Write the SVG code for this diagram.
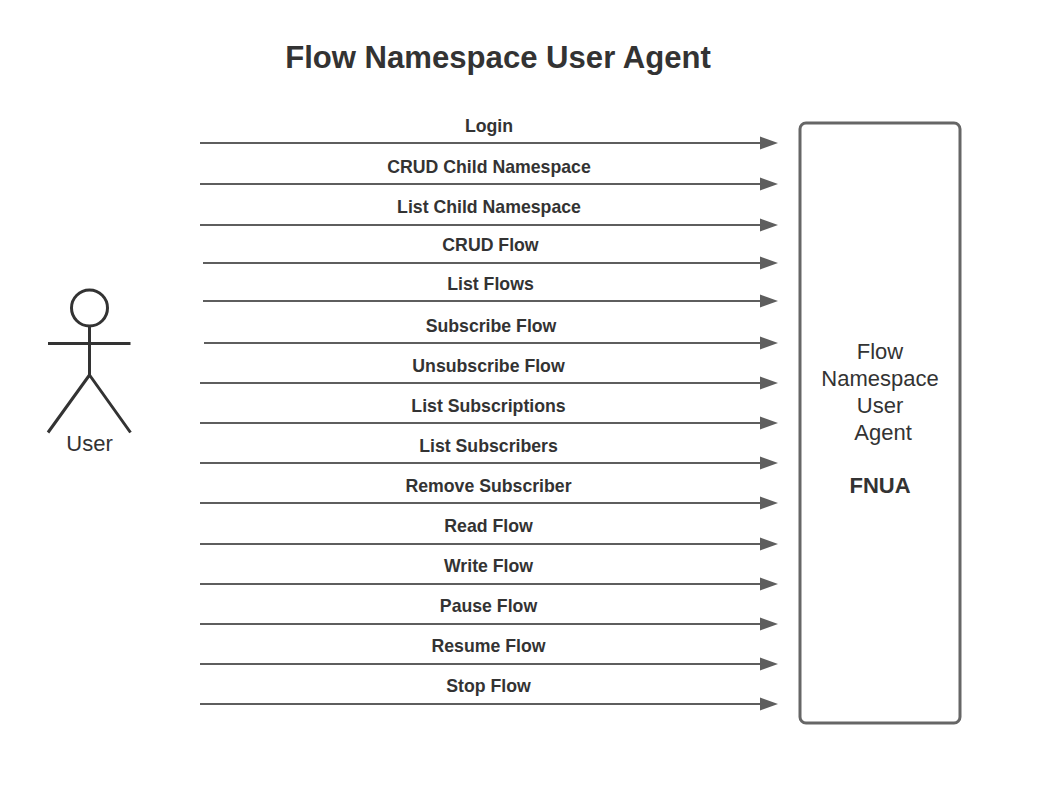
<svg xmlns="http://www.w3.org/2000/svg" width="1055" height="811" viewBox="0 0 1055 811">
<style>
text{font-family:"Liberation Sans",Arial,sans-serif;fill:#333;text-anchor:middle}
.l{font-size:17.700px;font-weight:700}
.n{font-size:22px}
.c{stroke:#5e5e5e;stroke-width:2;fill:none;marker-end:url(#a)}
.s{stroke:#333;stroke-width:3;fill:none;stroke-linecap:butt}
</style>
<defs><marker id="a" markerUnits="userSpaceOnUse" markerWidth="20" markerHeight="14" refX="10" refY="7" orient="auto"><path d="M0 0.500L18 7L0 13.500Z" fill="#5e5e5e"/></marker></defs>
<rect width="1055" height="811" fill="#fff"/>
<text id="title" x="498" y="68" style="font-size:31.100px;font-weight:700">Flow Namespace User Agent</text>
<g id="user">
<circle class="s" cx="89.500" cy="308" r="18"/>
<path class="s" d="M89.500 326V375M48 343.500H130.500M89.500 375L48 432.500M89.500 375L130.500 432.500" />
<text class="n" x="89.500" y="451">User</text>
</g>
<g id="fnua">
<rect x="800" y="123" width="160" height="600" rx="6" fill="#fff" stroke="#666" stroke-width="3"/>
<text class="n" x="880" y="359">Flow</text>
<text class="n" x="880" y="386">Namespace</text>
<text class="n" x="880" y="413">User</text>
<text class="n" x="883" y="440">Agent</text>
<text class="n" x="880" y="493" font-weight="700">FNUA</text>
</g>
<g id="connectors">
<path class="c" d="M200 143H770"/>
<path class="c" d="M200 184H770"/>
<path class="c" d="M200 225H770"/>
<path class="c" d="M203 263H770"/>
<path class="c" d="M203 301H770"/>
<path class="c" d="M204 343H770"/>
<path class="c" d="M200 383H770"/>
<path class="c" d="M200 423H770"/>
<path class="c" d="M200 463H770"/>
<path class="c" d="M200 503H770"/>
<path class="c" d="M200 544H770"/>
<path class="c" d="M200 584H770"/>
<path class="c" d="M200 624H770"/>
<path class="c" d="M200 664H770"/>
<path class="c" d="M200 704H770"/>
</g>
<g id="labels">
<text class="l" x="489" y="132">Login</text>
<text class="l" x="489" y="173">CRUD Child Namespace</text>
<text class="l" x="489" y="213">List Child Namespace</text>
<text class="l" x="490.500" y="251">CRUD Flow</text>
<text class="l" x="490.500" y="290">List Flows</text>
<text class="l" x="491" y="332">Subscribe Flow</text>
<text class="l" x="488.500" y="372">Unsubscribe Flow</text>
<text class="l" x="488.500" y="412">List Subscriptions</text>
<text class="l" x="488.500" y="452">List Subscribers</text>
<text class="l" x="488.500" y="492">Remove Subscriber</text>
<text class="l" x="488.500" y="532">Read Flow</text>
<text class="l" x="488.500" y="572">Write Flow</text>
<text class="l" x="488.500" y="612">Pause Flow</text>
<text class="l" x="488.500" y="652">Resume Flow</text>
<text class="l" x="488.500" y="692">Stop Flow</text>
</g>
</svg>
